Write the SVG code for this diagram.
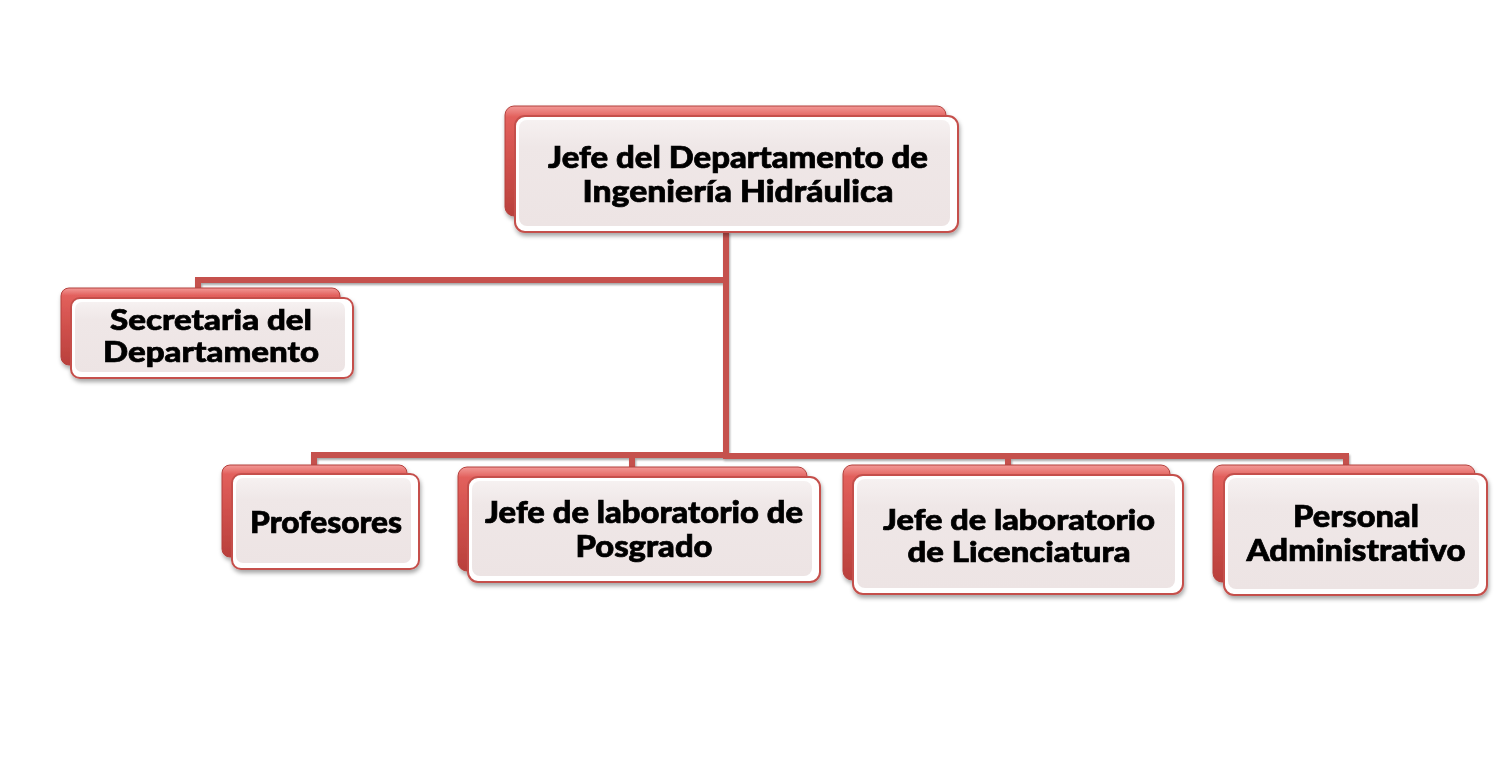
<svg xmlns="http://www.w3.org/2000/svg" width="1503" height="773" viewBox="0 0 1503 773">
<defs>
<linearGradient id="backGrad" x1="0" y1="0" x2="0" y2="1">
<stop offset="0" stop-color="#f29a97"/>
<stop offset="0.1" stop-color="#e2605c"/>
<stop offset="0.5" stop-color="#d0504c"/>
<stop offset="1" stop-color="#b9403c"/>
</linearGradient>
<linearGradient id="innerGrad" x1="0" y1="0" x2="0" y2="1">
<stop offset="0" stop-color="#f6f1f1"/>
<stop offset="0.25" stop-color="#efe7e7"/>
<stop offset="1" stop-color="#ede4e4"/>
</linearGradient>
<filter id="shadow" x="-10%" y="-10%" width="125%" height="135%">
<feDropShadow dx="1" dy="3" stdDeviation="2" flood-color="#000" flood-opacity="0.35"/>
</filter>
<filter id="lineShadow" x="-10%" y="-10%" width="125%" height="135%">
<feDropShadow dx="1" dy="2" stdDeviation="1.2" flood-color="#000" flood-opacity="0.35"/>
</filter>
</defs>
<style>
.back{fill:url(#backGrad);stroke:#b4403c;stroke-width:1}
.frontOuter{fill:#ffffff;stroke:#c5504c;stroke-width:2}
.frontInner{fill:url(#innerGrad)}
.conn{fill:none;stroke:#c5514d;stroke-width:6;stroke-linejoin:miter;stroke-linecap:butt}
.lbl{font-family:"Lato","Open Sans","Liberation Sans",sans-serif;font-weight:900;font-size:30px;fill:#000;stroke:#000;stroke-width:0.7;text-anchor:middle}
.sm{font-size:29px}
</style>
<rect width="1503" height="773" fill="#ffffff"/>
<g id="connectors" filter="url(#lineShadow)">
<path class="conn" d="M726 231 V459"/>
<path class="conn" d="M726 280 H198 V292"/>
<path class="conn" d="M729 455 H314 V468"/>
<path class="conn" d="M723 456 H1346 V468"/>
<path class="conn" d="M632 455 V470"/>
<path class="conn" d="M1008 456 V468"/>
</g>
<g id="node-jefe" filter="url(#shadow)">
<rect class="back" x="505" y="106" width="441" height="110" rx="9"/>
<rect class="frontOuter" x="515" y="116" width="443" height="116" rx="10"/>
<rect class="frontInner" x="519" y="120" width="431" height="106" rx="8"/>
<text class="lbl" x="738" y="168" textLength="380" lengthAdjust="spacingAndGlyphs">Jefe del Departamento de</text>
<text class="lbl" x="738" y="202" textLength="311" lengthAdjust="spacingAndGlyphs">Ingeniería Hidráulica</text>
</g>
<g id="node-secretaria" filter="url(#shadow)">
<rect class="back" x="61" y="288" width="279" height="77" rx="8"/>
<rect class="frontOuter" x="71" y="298" width="282" height="80" rx="9"/>
<rect class="frontInner" x="75" y="302" width="270" height="70" rx="7"/>
<text class="lbl sm" x="211" y="330" textLength="202" lengthAdjust="spacingAndGlyphs">Secretaria del</text>
<text class="lbl sm" x="211" y="362" textLength="216" lengthAdjust="spacingAndGlyphs">Departamento</text>
</g>
<g id="node-profesores" filter="url(#shadow)">
<rect class="back" x="222" y="465" width="185" height="92" rx="8"/>
<rect class="frontOuter" x="232" y="474" width="187" height="95" rx="9"/>
<rect class="frontInner" x="236" y="478" width="175" height="85" rx="7"/>
<text class="lbl" x="326" y="533" textLength="152" lengthAdjust="spacingAndGlyphs">Profesores</text>
</g>
<g id="node-posgrado" filter="url(#shadow)">
<rect class="back" x="458" y="467" width="349" height="104" rx="9"/>
<rect class="frontOuter" x="468" y="477" width="352" height="105" rx="10"/>
<rect class="frontInner" x="472" y="481" width="340" height="95" rx="8"/>
<text class="lbl" x="644" y="523" textLength="318" lengthAdjust="spacingAndGlyphs">Jefe de laboratorio de</text>
<text class="lbl" x="644" y="557" textLength="137" lengthAdjust="spacingAndGlyphs">Posgrado</text>
</g>
<g id="node-licenciatura" filter="url(#shadow)">
<rect class="back" x="843" y="465" width="327" height="115" rx="9"/>
<rect class="frontOuter" x="853" y="475" width="330" height="119" rx="10"/>
<rect class="frontInner" x="857" y="479" width="318" height="109" rx="8"/>
<text class="lbl sm" x="1019" y="530" textLength="272" lengthAdjust="spacingAndGlyphs">Jefe de laboratorio</text>
<text class="lbl sm" x="1019" y="562" textLength="223" lengthAdjust="spacingAndGlyphs">de Licenciatura</text>
</g>
<g id="node-personal" filter="url(#shadow)">
<rect class="back" x="1213" y="465" width="262" height="117" rx="9"/>
<rect class="frontOuter" x="1224" y="474" width="263" height="121" rx="10"/>
<rect class="frontInner" x="1228" y="478" width="251" height="111" rx="8"/>
<text class="lbl" x="1356" y="527" textLength="126" lengthAdjust="spacingAndGlyphs">Personal</text>
<text class="lbl" x="1356" y="561" textLength="219" lengthAdjust="spacingAndGlyphs">Administrativo</text>
</g>
</svg>
